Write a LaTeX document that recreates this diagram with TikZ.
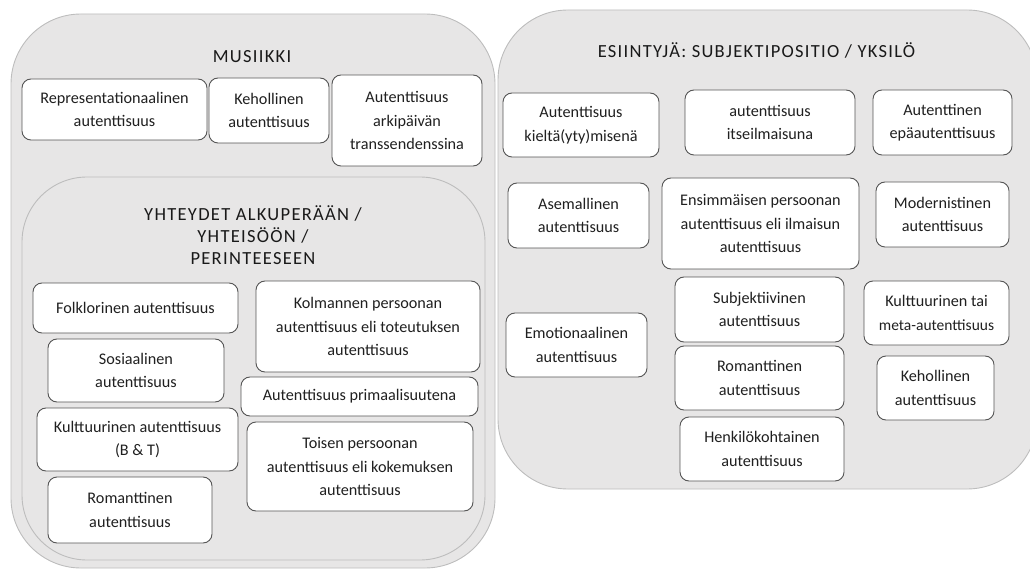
\documentclass[tikz,border=0pt]{standalone}
\usepackage{fontspec}
\setmainfont{Carlito}
\newfontfamily\ttlfont[LetterSpace=7]{Carlito}
\definecolor{contfill}{HTML}{E7E6E6}
\definecolor{contline}{HTML}{BDBDBD}
\definecolor{boxline}{HTML}{555555}
\definecolor{txt}{HTML}{202020}
\tikzset{
  container/.style={draw=contline, fill=contfill, line width=0.9pt, rounded corners=#1, inner sep=0pt},
  container/.default=70pt,
  box/.style={draw=boxline, fill=white, line width=0.9pt, rounded corners=9pt, inner sep=0pt,
    align=center, text=txt, font=\fontsize{16.2}{23.5}\selectfont},
  ttl/.style={font=\ttlfont\fontsize{18.5}{22}\selectfont, text=black!90, align=center, inner sep=0pt}
}
\newcommand{\bx}[6]{%
  \pgfmathsetmacro\bw{#4-#2}\pgfmathsetmacro\bh{#5-#3}%
  \node[box, minimum width=\bw pt, minimum height=\bh pt] (#1) at ({(#2+#4)/2},{(#3+#5)/2}) {#6};}
\begin{document}
\begin{tikzpicture}[x=1pt,y=-1pt]
\useasboundingbox (0,0) rectangle (1030,569);
\clip (0,0) rectangle (1030,569);
% containers
\node[container=70pt, minimum width=484pt, minimum height=554pt] (musiikki) at (253,291) {};
\node[container=70pt, minimum width=539pt, minimum height=479pt] (esiintyja) at (767.5,249.5) {};
\node[ttl, anchor=base] (tmus) at (252,63) {MUSIIKKI};
\node[ttl, anchor=base] (tesi) at (756.5,58) {ESIINTYJÄ: SUBJEKTIPOSITIO / YKSILÖ};
\bx{rep}{22}{79}{207}{140}{Representationaalinen\\autenttisuus}
\bx{kehm}{209}{78}{329}{143}{Kehollinen\\autenttisuus}
\bx{arki}{332}{75}{482}{166}{Autenttisuus\\arkipäivän\\transsendenssina}
\node[container=65pt, minimum width=463pt, minimum height=383pt] (yhteydet) at (253.5,368.5) {};
\node[ttl, anchor=base] (tyh1) at (253,221) {YHTEYDET ALKUPERÄÄN /};
\node[ttl, anchor=base] (tyh2) at (253,243) {YHTEISÖÖN /};
\node[ttl, anchor=base] (tyh3) at (253,265) {PERINTEESEEN};
\bx{folk}{33}{283}{238}{333}{Folklorinen autenttisuus}
\bx{sos}{48}{339}{224}{402}{Sosiaalinen\\autenttisuus}
\bx{kult}{37}{408}{238}{471}{Kulttuurinen autenttisuus\\(B \& T)}
\bx{romm}{48}{477}{212}{543}{Romanttinen\\autenttisuus}
\bx{kolm}{256}{281}{480}{372}{Kolmannen persoonan\\autenttisuus eli toteutuksen\\autenttisuus}
\bx{prim}{241}{377}{478}{416}{Autenttisuus primaalisuutena}
\bx{tois}{247}{422}{473}{511}{Toisen persoonan\\autenttisuus eli kokemuksen\\autenttisuus}
\bx{kielt}{503}{93}{659}{157}{Autenttisuus\\kieltä(yty)misenä}
\bx{itse}{685}{90}{855}{155}{autenttisuus\\itseilmaisuna}
\bx{epa}{873}{90}{1012}{155}{Autenttinen\\epäautenttisuus}
\bx{asem}{508}{183}{649}{248}{Asemallinen\\autenttisuus}
\bx{ens}{662}{178}{859}{269}{Ensimmäisen persoonan\\autenttisuus eli ilmaisun\\autenttisuus}
\bx{mod}{876}{182}{1009}{247}{Modernistinen\\autenttisuus}
\bx{emo}{506}{313}{647}{377}{Emotionaalinen\\autenttisuus}
\bx{subj}{675}{277}{844}{342}{Subjektiivinen\\autenttisuus}
\bx{romr}{675}{346}{844}{410}{Romanttinen\\autenttisuus}
\bx{henk}{680}{417}{844}{481}{Henkilökohtainen\\autenttisuus}
\bx{meta}{864}{281}{1009}{345}{Kulttuurinen tai\\{\fontsize{15.5}{23.5}\selectfont meta-autenttisuus}}
\bx{kehr}{877}{356}{994}{420}{Kehollinen\\autenttisuus}
\end{tikzpicture}
\end{document}
